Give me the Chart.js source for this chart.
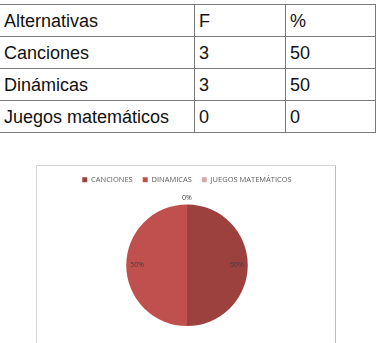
<!DOCTYPE html>
<html>
<head>
<meta charset="utf-8">
<script src="https://cdn.jsdelivr.net/npm/chart.js@4"></script>
<style>
html,body{margin:0;padding:0;background:#fff;width:377px;height:343px;overflow:hidden;position:relative;}
table{position:absolute;left:-1px;top:4px;border-collapse:collapse;font-family:"Liberation Sans",Arial,sans-serif;font-size:18px;color:#111;}
td{border:1px solid #7a7a7a;height:31px;padding:0 0 0 4px;vertical-align:middle;line-height:18px;}
#box{position:absolute;left:36px;top:165px;width:300px;height:200px;border:1px solid #d6d6d6;border-right-color:#bcbcbc;box-sizing:border-box;}
#wrap{position:absolute;left:37px;top:166px;width:300px;height:177px;}
</style>
</head>
<body>
<script>
const tableHead = ["Alternativas", "F", "%"];
const categories = ["Canciones", "Dinámicas", "Juegos matemáticos"];
const frequencies = [3, 3, 0];
const percents = [50, 50, 0];
const legendLabels = ["CANCIONES", "DINAMICAS", "JUEGOS MATEMÁTICOS"];
const sliceColors = ["#9d413e", "#c0504d", "#d8aaa9"];

// build table
const tbl = document.createElement('table');
const colW = [190, 86, 85];
const mkRow = (cells) => {
  const tr = document.createElement('tr');
  cells.forEach((c, i) => {
    const td = document.createElement('td');
    td.textContent = c;
    td.style.width = colW[i] + 'px';
    tr.appendChild(td);
  });
  tbl.appendChild(tr);
};
mkRow(tableHead);
categories.forEach((c, i) => mkRow([c, String(frequencies[i]), String(percents[i])]));
document.body.appendChild(tbl);

const box = document.createElement('div'); box.id = 'box'; document.body.appendChild(box);
const wrap = document.createElement('div'); wrap.id = 'wrap';
const cv = document.createElement('canvas'); wrap.appendChild(cv); document.body.appendChild(wrap);

const legendGap = {
  id: 'legendGap',
  beforeInit(chart) {
    const orig = chart.legend.fit;
    chart.legend.fit = function () { orig.call(this); this.height += 11; };
  }
};

const pctLabels = {
  id: 'pctLabels',
  afterDatasetsDraw(chart) {
    const ctx = chart.ctx;
    const meta = chart.getDatasetMeta(0);
    ctx.save();
    ctx.font = '7px "Open Sans", sans-serif';
    ctx.fillStyle = '#404040';
    ctx.textAlign = 'center';
    ctx.textBaseline = 'middle';
    meta.data.forEach((arc, i) => {
      const p = arc.getProps(['x','y','startAngle','endAngle','outerRadius'], true);
      const mid = (p.startAngle + p.endAngle) / 2;
      const r = percents[i] > 0 ? p.outerRadius * 0.82 : p.outerRadius + 7;
      ctx.fillText(percents[i] + '%', p.x + Math.cos(mid) * r, p.y + Math.sin(mid) * r);
    });
    ctx.restore();
  }
};

new Chart(cv, {
  type: 'pie',
  data: {
    labels: legendLabels,
    datasets: [{ data: percents, backgroundColor: sliceColors, borderWidth: 0 }]
  },
  options: {
    responsive: true,
    maintainAspectRatio: false,
    animation: false,
    layout: { padding: { top: 0, bottom: 17 } },
    plugins: {
      tooltip: { enabled: false },
      legend: {
        position: 'top',
        labels: {
          boxWidth: 5, boxHeight: 5, padding: 10,
          color: '#606060',
          font: { family: '"Open Sans", sans-serif', size: 7.5 }
        }
      }
    }
  },
  plugins: [legendGap, pctLabels]
});
</script>
</body>
</html>
